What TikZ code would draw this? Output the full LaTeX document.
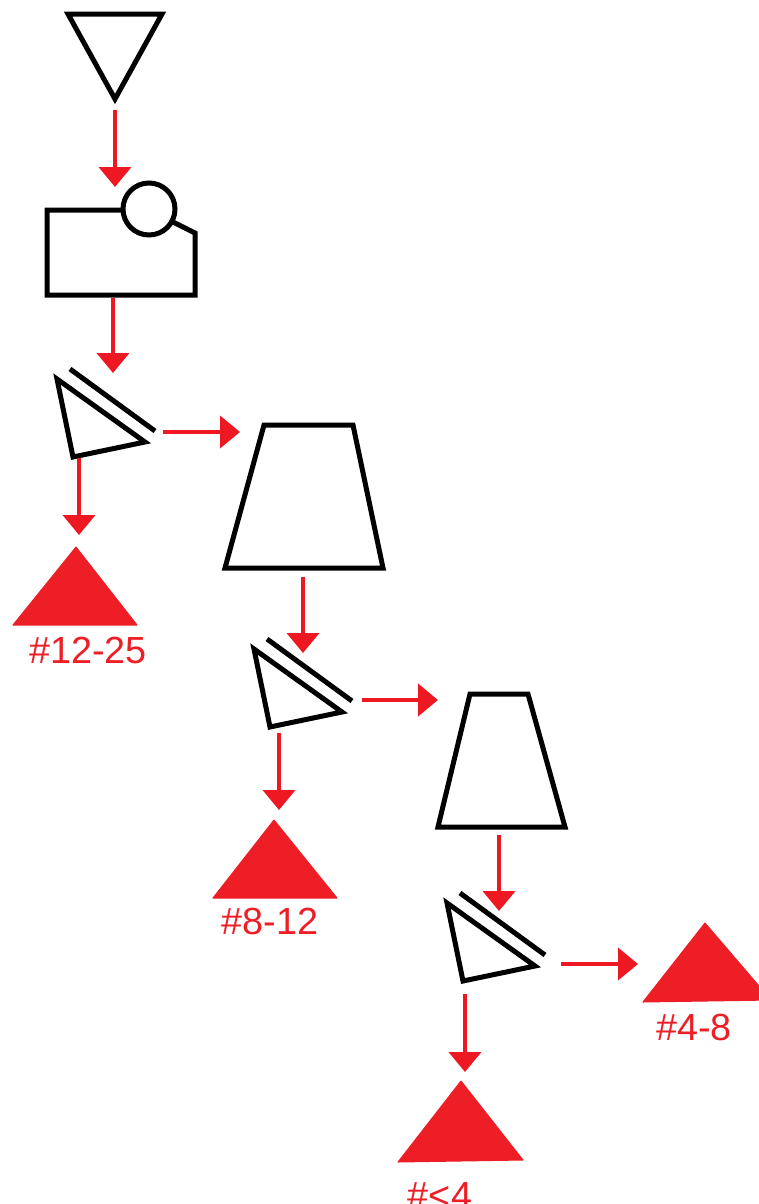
\documentclass[tikz,border=0pt]{standalone}
\usepackage{fontspec}
\setmainfont{Liberation Sans}
\usetikzlibrary{arrows.meta}

\definecolor{flowred}{RGB}{238,24,34}
\definecolor{prodred}{RGB}{237,30,38}

\tikzset{
  unit/.style={line width=0.1cm, draw=black, fill=white},
  flow/.style={line width=0.08cm, draw=flowred,
    -{Triangle[width=0.64cm,length=0.4cm]}},
  product/.style={fill=prodred, draw=prodred, line width=0.02cm, line join=round},
  sizelabel/.style={text=prodred, font=\fontsize{21.5}{24}\selectfont, anchor=base, inner sep=0pt},
  pics/screen/.style={code={
    \draw[unit] (0,0) -- (88,63) -- (16,78) -- cycle;
    \draw[line width=0.1cm] (13,-10) -- (98,52);
  }}
}

\begin{document}
\begin{tikzpicture}[x=0.02cm, y=-0.02cm]
  \useasboundingbox (0,0) rectangle (759,1204);
  \clip (0,0) rectangle (759,1204);

  % feed bin
  \draw[unit] (68,14) -- (162,14) -- (115,99) -- cycle;

  % primary crusher
  \draw[unit] (122,210) -- (47,210) -- (47,295) -- (195,295) -- (195,233) -- (173,222);
  \draw[unit] (149,209) circle[radius=26];

  % screens
  \pic at (57,379) {screen};
  \pic at (254,649) {screen};
  \pic at (447,903) {screen};

  % cone crushers
  \draw[unit] (264,425) -- (353,425) -- (383,568) -- (225,568) -- cycle;
  \draw[unit] (470,694) -- (528,694) -- (565,827) -- (438,827) -- cycle;

  % product stockpiles
  \draw[product] (76,547) -- (137,625) -- (13,625) -- cycle;
  \draw[product] (274,820) -- (337,898) -- (213,898) -- cycle;
  \draw[product] (705,923) -- (771,1000) -- (643,1002) -- cycle;
  \draw[product] (461,1081) -- (523,1160) -- (398,1162) -- cycle;

  \node[sizelabel] (lab1) at (88,663) {\#12-25};
  \node[sizelabel] (lab2) at (270,934) {\#8-12};
  \node[sizelabel] (lab3) at (694,1040) {\#4-8};
  \node[sizelabel] (lab4) at (440,1208) {\#<4};

  % flow connector ends
  \coordinate (binout)   at (115,110);  \coordinate (crushin)  at (115,187);
  \coordinate (crushout) at (113,298);  \coordinate (scrAin)   at (113,373);
  \coordinate (scrAover) at (163,432);  \coordinate (coneAin)  at (240,432);
  \coordinate (scrAunder) at (79,458);  \coordinate (pileA)    at (79,535);
  \coordinate (coneAout) at (303,577);  \coordinate (scrBin)   at (303,653);
  \coordinate (scrBover) at (362,700);  \coordinate (coneBin)  at (438,700);
  \coordinate (scrBunder) at (279,733); \coordinate (pileB)    at (279,810);
  \coordinate (coneBout) at (499,835);  \coordinate (scrCin)   at (499,911);
  \coordinate (scrCover) at (561,964);  \coordinate (pileC)    at (638,964);
  \coordinate (scrCunder) at (465,994); \coordinate (pileD)    at (465,1072);

  \draw[flow] (binout) -- (crushin);
  \draw[flow] (crushout) -- (scrAin);
  \draw[flow] (scrAover) -- (coneAin);
  \draw[flow] (scrAunder) -- (pileA);
  \draw[flow] (coneAout) -- (scrBin);
  \draw[flow] (scrBover) -- (coneBin);
  \draw[flow] (scrBunder) -- (pileB);
  \draw[flow] (coneBout) -- (scrCin);
  \draw[flow] (scrCover) -- (pileC);
  \draw[flow] (scrCunder) -- (pileD);
\end{tikzpicture}
\end{document}
